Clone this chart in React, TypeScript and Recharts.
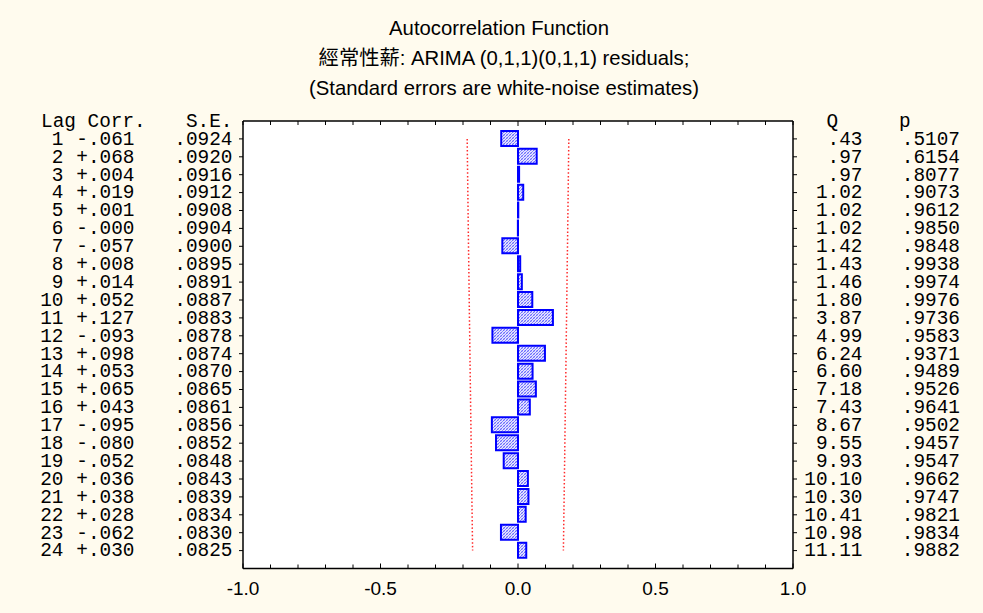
import React from 'react';
import { ComposedChart, Bar, Line, XAxis, YAxis, CartesianGrid } from 'recharts';

const lags = [1, 2, 3, 4, 5, 6, 7, 8, 9, 10, 11, 12, 13, 14, 15, 16, 17, 18, 19, 20, 21, 22, 23, 24];
const corrs = [-0.061, 0.068, 0.004, 0.019, 0.001, -0.0004, -0.057, 0.008, 0.014, 0.052, 0.127, -0.093, 0.098, 0.053, 0.065, 0.043, -0.095, -0.08, -0.052, 0.036, 0.038, 0.028, -0.062, 0.03];
const stdErrs = [0.0924, 0.092, 0.0916, 0.0912, 0.0908, 0.0904, 0.09, 0.0895, 0.0891, 0.0887, 0.0883, 0.0878, 0.0874, 0.087, 0.0865, 0.0861, 0.0856, 0.0852, 0.0848, 0.0843, 0.0839, 0.0834, 0.083, 0.0825];
const qStats = [0.43, 0.97, 0.97, 1.02, 1.02, 1.02, 1.42, 1.43, 1.46, 1.8, 3.87, 4.99, 6.24, 6.6, 7.18, 7.43, 8.67, 9.55, 9.93, 10.1, 10.3, 10.41, 10.98, 11.11];
const pValues = [0.5107, 0.6154, 0.8077, 0.9073, 0.9612, 0.985, 0.9848, 0.9938, 0.9974, 0.9976, 0.9736, 0.9583, 0.9371, 0.9489, 0.9526, 0.9641, 0.9502, 0.9457, 0.9547, 0.9662, 0.9747, 0.9821, 0.9834, 0.9882];
const rowTicks = [0, 1, 2, 3, 4, 5, 6, 7, 8, 9, 10, 11, 12, 13, 14, 15, 16, 17, 18, 19, 20, 21, 22, 23, 24];
const xTicks = [-1.0, -0.9, -0.8, -0.7, -0.6, -0.5, -0.4, -0.3, -0.2, -0.1, 0.0, 0.1, 0.2, 0.3, 0.4, 0.5, 0.6, 0.7, 0.8, 0.9, 1.0];
const titleLines = [
  'Autocorrelation Function',
  '經常性薪: ARIMA (0,1,1)(0,1,1) residuals;',
  '(Standard errors are white-noise estimates)',
];

const data = lags.map((lag, i) => ({
  lag,
  corr: corrs[i],
  upper: 2 * stdErrs[i],
  lower: -2 * stdErrs[i],
}));

const MONO = "'Liberation Mono', 'Courier New', monospace";
const SANS = "'Liberation Sans', Arial, 'Noto Sans CJK TC', sans-serif";
const MONO_SIZE = 19.4;

const noLead = (s: string) => s.replace(/^0\./, '.');
const fmtCorr = (v: number) => (v < 0 ? '-' : '+') + noLead(Math.abs(v).toFixed(3));
const fmtSE = (v: number) => noLead(v.toFixed(4));
const fmtQ = (v: number) => noLead(v.toFixed(2));
const fmtP = (v: number) => noLead(v.toFixed(4));

const isMajor = (v: number) => Math.abs(v * 2 - Math.round(v * 2)) < 1e-9;

const LeftTick = (props: any) => {
  const { x, y, payload } = props;
  const lag = payload.value;
  const tp = { fontFamily: MONO, fontSize: MONO_SIZE, fill: '#000' };
  if (lag === 0) {
    return (
      <g>
        <text x={x - 202} y={y} dy="0.3em" textAnchor="start" {...tp}>Lag Corr.</text>
        <text x={x - 10.5} y={y} dy="0.3em" textAnchor="end" {...tp}>S.E.</text>
      </g>
    );
  }
  const i = lag - 1;
  return (
    <g>
      <line x1={x} x2={x - 4} y1={y} y2={y} stroke="#000" strokeWidth={1} />
      <text x={x - 179.5} y={y} dy="0.3em" textAnchor="end" {...tp}>{String(lag)}</text>
      <text x={x - 108.5} y={y} dy="0.3em" textAnchor="end" {...tp}>{fmtCorr(corrs[i])}</text>
      <text x={x - 10.5} y={y} dy="0.3em" textAnchor="end" {...tp}>{fmtSE(stdErrs[i])}</text>
    </g>
  );
};

const RightTick = (props: any) => {
  const { x, y, payload } = props;
  const lag = payload.value;
  const tp = { fontFamily: MONO, fontSize: MONO_SIZE, fill: '#000' };
  if (lag === 0) {
    return (
      <g>
        <text x={x + 33.5} y={y} dy="0.3em" textAnchor="start" {...tp}>Q</text>
        <text x={x + 106} y={y} dy="0.3em" textAnchor="start" {...tp}>p</text>
      </g>
    );
  }
  const i = lag - 1;
  return (
    <g>
      <line x1={x} x2={x + 4} y1={y} y2={y} stroke="#000" strokeWidth={1} />
      <text x={x + 69.5} y={y} dy="0.3em" textAnchor="end" {...tp}>{fmtQ(qStats[i])}</text>
      <text x={x + 167} y={y} dy="0.3em" textAnchor="end" {...tp}>{fmtP(pValues[i])}</text>
    </g>
  );
};

const BottomTick = (props: any) => {
  const { x, y, payload } = props;
  const v = payload.value;
  const major = isMajor(v);
  return (
    <g>
      <line x1={x} x2={x} y1={y} y2={y - (major ? 5 : 4)} stroke="#000" strokeWidth={1} />
      {major && (
        <text x={x} y={y + 20} dy="0.35em" textAnchor="middle" fontFamily={SANS} fontSize={19} fill="#000">
          {v.toFixed(1)}
        </text>
      )}
    </g>
  );
};

const TopTick = (props: any) => {
  const { x, y, payload } = props;
  const v = payload.value;
  const major = Math.abs(v) < 1e-9;
  return <line x1={x} x2={x} y1={y} y2={y + (major ? 5 : 4)} stroke="#000" strokeWidth={1} />;
};

const titleCenters = [499, 504, 504];

export default function App() {
  return (
    <div
      style={{
        position: 'absolute',
        left: 0,
        top: 0,
        width: 983,
        height: 613,
        background: '#fffbee',
        overflow: 'hidden',
      }}
    >
      {titleLines.map((t, i) => (
        <div
          key={t}
          style={{
            position: 'absolute',
            left: titleCenters[i] - 300,
            top: 13 + i * 30,
            width: 600,
            textAlign: 'center',
            fontFamily: SANS,
            fontSize: 20.3,
            lineHeight: '30px',
            color: '#000',
            whiteSpace: 'nowrap',
          }}
        >
          {t}
        </div>
      ))}
      <ComposedChart
        width={983}
        height={613}
        data={data}
        layout="vertical"
        margin={{ top: 0, right: 0, bottom: 0, left: 0 }}
        style={{ position: 'absolute', left: 0, top: 0 }}
      >
        <defs>
          <pattern id="hatch" patternUnits="userSpaceOnUse" width="3" height="3">
            <rect x="0" y="0" width="3" height="3" fill="#e6e6ff" />
            <path d="M0,3 L3,0" stroke="#6a6aff" strokeWidth="1" />
            <path d="M0,0 L3,3" stroke="#a0a0ff" strokeWidth="0.6" />
          </pattern>
        </defs>
        <CartesianGrid fill="#ffffff" stroke="none" horizontal={false} vertical={false} />
        <XAxis
          xAxisId="bottom"
          type="number"
          orientation="bottom"
          domain={[-1, 1]}
          ticks={xTicks}
          interval={0}
          height={44.5}
          tickSize={0}
          tickMargin={0}
          tickLine={false}
          tick={<BottomTick />}
          axisLine={{ stroke: '#000', strokeWidth: 1.5 }}
          allowDataOverflow
        />
        <XAxis
          xAxisId="top"
          type="number"
          orientation="top"
          domain={[-1, 1]}
          ticks={xTicks}
          interval={0}
          height={121}
          tickSize={0}
          tickMargin={0}
          tickLine={false}
          tick={<TopTick />}
          axisLine={{ stroke: '#000', strokeWidth: 1.5 }}
          allowDataOverflow
        />
        <YAxis
          yAxisId="left"
          type="number"
          dataKey="lag"
          orientation="left"
          domain={[0, 25]}
          ticks={rowTicks}
          interval={0}
          width={243}
          tickSize={0}
          tickMargin={0}
          tickLine={false}
          tick={<LeftTick />}
          axisLine={{ stroke: '#000', strokeWidth: 1.5 }}
          allowDataOverflow
        />
        <YAxis
          yAxisId="right"
          type="number"
          dataKey="lag"
          orientation="right"
          domain={[0, 25]}
          ticks={rowTicks}
          interval={0}
          width={190}
          tickSize={0}
          tickMargin={0}
          tickLine={false}
          tick={<RightTick />}
          axisLine={{ stroke: '#000', strokeWidth: 1.5 }}
          allowDataOverflow
        />
        <Bar
          xAxisId="bottom"
          yAxisId="left"
          dataKey="corr"
          barSize={15}
          fill="url(#hatch)"
          stroke="#0000ff"
          strokeWidth={2}
          isAnimationActive={false}
        />
        <Line
          xAxisId="bottom"
          yAxisId="left"
          dataKey="upper"
          stroke="#ff2a2a"
          strokeWidth={1.5}
          strokeDasharray="1.5 2.2"
          dot={false}
          activeDot={false}
          isAnimationActive={false}
        />
        <Line
          xAxisId="bottom"
          yAxisId="left"
          dataKey="lower"
          stroke="#ff2a2a"
          strokeWidth={1.5}
          strokeDasharray="1.5 2.2"
          dot={false}
          activeDot={false}
          isAnimationActive={false}
        />
        <Line
          xAxisId="bottom"
          yAxisId="right"
          dataKey="lower"
          stroke="none"
          dot={false}
          activeDot={false}
          legendType="none"
          isAnimationActive={false}
        />
      </ComposedChart>
    </div>
  );
}
